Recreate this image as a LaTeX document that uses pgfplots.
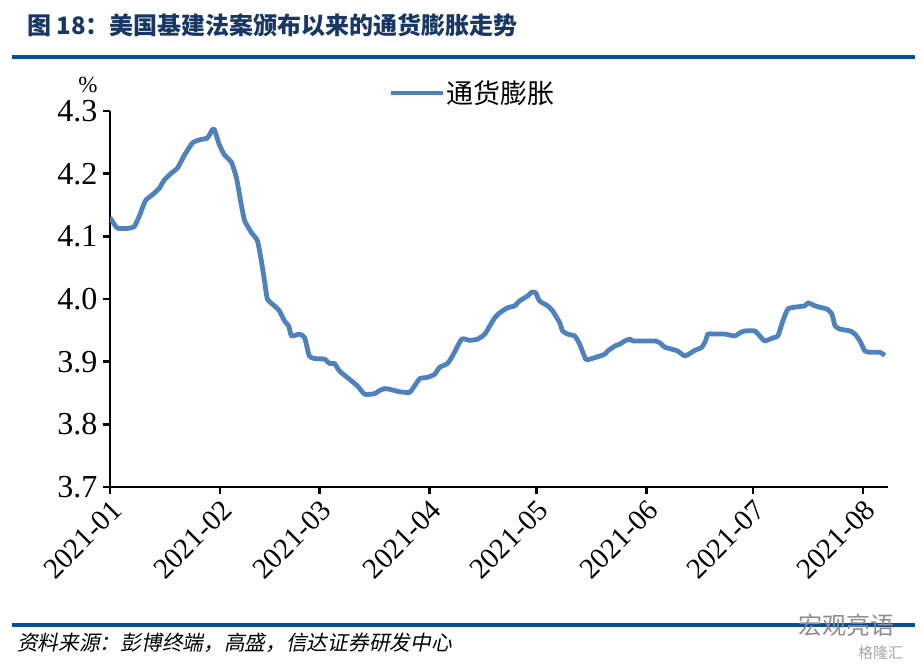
\documentclass[border=0pt]{standalone}
\usepackage{fontspec}
\usepackage{pgfplots}
\pgfplotsset{compat=1.18}
\setmainfont{Liberation Serif}
\newfontfamily\cjk{Noto Sans CJK SC}
\newfontfamily\cjkit[FakeSlant=0.2]{Noto Sans CJK SC}
\definecolor{linec}{RGB}{79,129,189}
\definecolor{rulec}{RGB}{8,78,148}
\definecolor{titlec}{RGB}{25,55,100}
\pgfplotstableread{
d v
0 4.130
2.1 4.113
5.5 4.113
6.9 4.116
8.3 4.133
10.0 4.157
12.5 4.169
13.9 4.177
15.3 4.190
17.3 4.201
19.0 4.209
21.0 4.230
23.2 4.249
25.2 4.254
27.4 4.257
28.8 4.270
29.4 4.270
30.8 4.246
32.2 4.230
34.2 4.218
35.6 4.193
37.0 4.149
37.9 4.125
39.8 4.106
41.5 4.093
42.6 4.061
43.5 4.029
44.3 4.000
46.3 3.989
47.7 3.981
49.1 3.965
50.3 3.957
51.1 3.941
53.4 3.944
54.8 3.938
56.1 3.909
57.6 3.905
60.4 3.904
61.8 3.897
63.2 3.897
64.6 3.885
67.4 3.872
69.7 3.861
71.7 3.848
74.5 3.849
75.9 3.854
77.3 3.857
78.7 3.856
81.5 3.852
84.3 3.851
85.7 3.861
87.2 3.873
89.4 3.875
91.4 3.880
92.8 3.891
95.0 3.897
96.4 3.909
99.0 3.936
101.2 3.934
103.5 3.936
105.5 3.944
106.9 3.957
108.3 3.970
109.7 3.978
111.9 3.986
113.9 3.989
115.3 3.997
117.6 4.005
118.7 4.011
119.8 4.010
120.9 3.997
123.2 3.989
124.6 3.981
126.6 3.962
127.4 3.949
128.8 3.944
130.8 3.941
132.2 3.928
133.9 3.904
135.0 3.904
137.9 3.909
139.3 3.912
140.1 3.917
142.1 3.925
143.5 3.928
144.9 3.933
146.3 3.936
147.2 3.933
149.1 3.933
153.4 3.933
154.8 3.930
156.2 3.923
158.1 3.920
159.8 3.917
161.8 3.909
163.2 3.913
164.6 3.918
166.6 3.923
167.7 3.934
168.3 3.944
170.3 3.944
173.1 3.944
175.9 3.941
177.3 3.946
178.7 3.949
181.5 3.949
182.9 3.941
184.3 3.933
186.6 3.938
188.0 3.941
189.4 3.965
190.8 3.984
192.8 3.987
195.6 3.989
196.5 3.994
198.5 3.989
200.4 3.986
201.8 3.984
203.2 3.976
204.1 3.957
205.5 3.952
208.3 3.949
209.7 3.944
211.1 3.933
212.5 3.917
213.9 3.915
216.7 3.915
218.1 3.910
}\infl
\begin{document}
\begin{tikzpicture}
\path (0bp,0bp) rectangle (922bp,666bp);
\node[anchor=west, text=titlec, inner sep=0pt, font=\cjk\bfseries\fontsize{24bp}{26bp}\selectfont] at (27bp,641bp) {图 18：美国基建法案颁布以来的通货膨胀走势};
\fill[rulec] (12bp,607bp) rectangle (915bp,611bp);
\fill[rulec] (12bp,39bp) rectangle (915bp,43bp);
\node[anchor=west, inner sep=0pt, font=\cjkit\fontsize{20.7bp}{22bp}\selectfont] at (17bp,23bp) {资料来源：彭博终端，高盛，信达证券研发中心};
\node[anchor=west, inner sep=0pt, text=black!45, font=\cjk\fontsize{24bp}{26bp}\selectfont] at (798bp,41bp) {宏观亮语};
\node[anchor=west, inner sep=0pt, text=black!35, font=\cjk\fontsize{15bp}{17bp}\selectfont] at (858bp,13bp) {格隆汇};
\node[inner sep=0pt, font=\fontsize{23bp}{25bp}\selectfont] at (88bp,581bp) {\%};
\begin{axis}[
  at={(110bp,179bp)}, anchor=south west,
  scale only axis, width=778bp, height=376bp,
  xmin=0, xmax=219, ymin=3.7, ymax=4.3,
  axis x line=bottom, axis y line=left,
  axis line style={-, line width=2.5bp, black},
  tick align=outside, major tick length=7bp,
  tick style={line width=2.5bp, black},
  xtick={0,31,59,90,120,151,181,212},
  xticklabels={2021-01,2021-02,2021-03,2021-04,2021-05,2021-06,2021-07,2021-08},
  ytick={3.7,3.8,3.9,4.0,4.1,4.2,4.3},
  /pgf/number format/fixed, /pgf/number format/fixed zerofill,
  /pgf/number format/precision=1, /pgf/number format/assume math mode=true,
  xticklabel style={font=\fontsize{29bp}{31bp}\selectfont, rotate=45, anchor=east, xshift=0bp, yshift=-13bp},
  yticklabel style={font=\fontsize{32bp}{34bp}\selectfont, xshift=-2bp},
  legend style={at={(0.466,1.048)}, anchor=center, draw=none, fill=none,
    font=\cjk\fontsize{27bp}{29bp}\selectfont},
  legend image code/.code={\draw[#1] (0bp,0bp) -- (52bp,0bp);},
]
\addplot[color=linec, line width=4.8bp, line join=round, smooth, tension=0.3] table[x=d, y=v] {\infl};
\addlegendentry{通货膨胀}
\end{axis}
\end{tikzpicture}
\end{document}
